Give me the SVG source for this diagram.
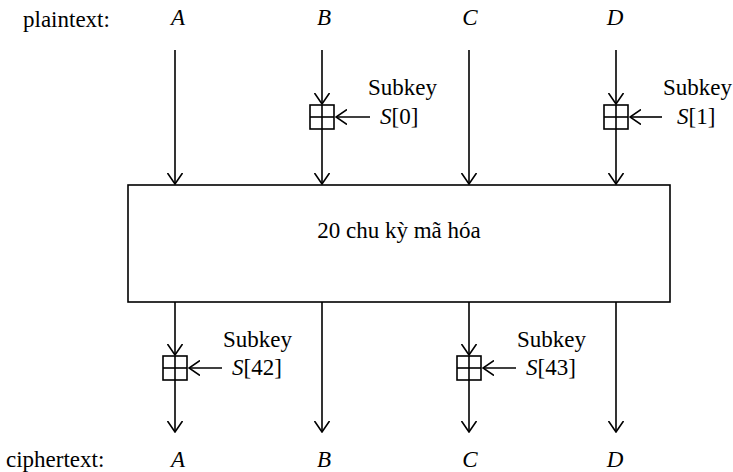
<svg xmlns="http://www.w3.org/2000/svg" width="733" height="472" viewBox="0 0 733 472">
<style>
line,rect,path{stroke:#000;stroke-width:1.6;fill:none}
</style>
<defs>
<marker id="ah" viewBox="0 0 12 16" refX="11" refY="8" markerWidth="12" markerHeight="16" markerUnits="userSpaceOnUse" orient="auto">
<path d="M0,0.5 L11,8 L0,15.5" style="stroke-width:1.6"/>
</marker>
<g id="plus"><rect x="-12" y="-12" width="24" height="24"/><line x1="0" y1="-12" x2="0" y2="12"/><line x1="-12" y1="0" x2="12" y2="0"/></g>
</defs>
<g id="labels" font-family="Liberation Serif" font-size="23">
<text x="23" y="27">plaintext:</text>
<text x="6" y="467">ciphertext:</text>
<text font-style="italic" text-anchor="middle" x="178" y="25">A</text>
<text font-style="italic" text-anchor="middle" x="324" y="25">B</text>
<text font-style="italic" text-anchor="middle" x="470" y="25">C</text>
<text font-style="italic" text-anchor="middle" x="615" y="25">D</text>
<text font-style="italic" text-anchor="middle" x="178" y="467">A</text>
<text font-style="italic" text-anchor="middle" x="324" y="467">B</text>
<text font-style="italic" text-anchor="middle" x="470" y="467">C</text>
<text font-style="italic" text-anchor="middle" x="615" y="467">D</text>
</g>
<g id="rounds">
<rect x="128" y="185" width="542" height="117"/>
<text font-family="Liberation Serif" font-size="23" text-anchor="middle" x="399" y="238">20 chu kỳ mã hóa</text>
</g>
<g id="add0" font-family="Liberation Serif" font-size="23"><use href="#plus" x="322" y="117"/><text x="368" y="95">Subkey</text><text x="380" y="124"><tspan font-style="italic">S</tspan>[0]</text></g>
<g id="add1" font-family="Liberation Serif" font-size="23"><use href="#plus" x="616" y="117"/><text x="663" y="95">Subkey</text><text x="677" y="124"><tspan font-style="italic">S</tspan>[1]</text></g>
<g id="add42" font-family="Liberation Serif" font-size="23"><use href="#plus" x="175" y="368"/><text x="223" y="347">Subkey</text><text x="232" y="375"><tspan font-style="italic">S</tspan>[42]</text></g>
<g id="add43" font-family="Liberation Serif" font-size="23"><use href="#plus" x="469" y="368"/><text x="517" y="347">Subkey</text><text x="526" y="375"><tspan font-style="italic">S</tspan>[43]</text></g>
<g id="connectors" marker-end="url(#ah)">
<line x1="175" y1="50" x2="175" y2="184"/>
<line x1="322" y1="50" x2="322" y2="104"/>
<line x1="322" y1="129" x2="322" y2="184"/>
<line x1="469" y1="50" x2="469" y2="184"/>
<line x1="616" y1="50" x2="616" y2="104"/>
<line x1="616" y1="129" x2="616" y2="184"/>
<line x1="370" y1="117" x2="336" y2="117"/>
<line x1="662" y1="117" x2="630" y2="117"/>
<line x1="175" y1="302" x2="175" y2="355"/>
<line x1="175" y1="380" x2="175" y2="432"/>
<line x1="322" y1="302" x2="322" y2="432"/>
<line x1="469" y1="302" x2="469" y2="355"/>
<line x1="469" y1="380" x2="469" y2="432"/>
<line x1="616" y1="302" x2="616" y2="432"/>
<line x1="222" y1="368" x2="189" y2="368"/>
<line x1="516" y1="368" x2="483" y2="368"/>
</g>
</svg>
